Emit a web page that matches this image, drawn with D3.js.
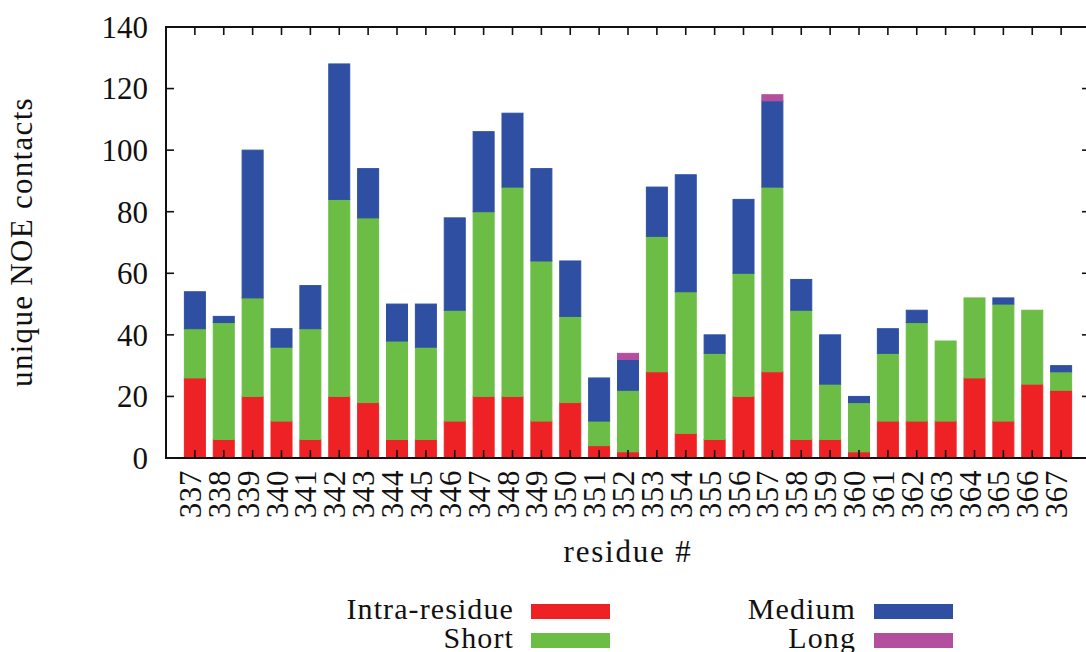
<!DOCTYPE html>
<html>
<head>
<meta charset="utf-8">
<script src="https://cdn.jsdelivr.net/npm/d3@7"></script>
<style>
  html, body { margin: 0; padding: 0; background: #fff; }
  svg text { font-family: "Liberation Serif", "DejaVu Serif", serif; fill: #111; }
</style>
</head>
<body>
<svg id="chart" width="1086" height="652"></svg>
<script>
// residue numbers on the x axis
const residues = [337,338,339,340,341,342,343,344,345,346,347,348,349,350,351,352,
                  353,354,355,356,357,358,359,360,361,362,363,364,365,366,367];

// contact counts per class (stacked bottom -> top)
const intra  = [26, 6,20,12, 6,20,18, 6, 6,12,20,20,12,18, 4, 2,28, 8, 6,20,28, 6, 6, 2,12,12,12,26,12,24,22];
const short  = [16,38,32,24,36,64,60,32,30,36,60,68,52,28, 8,20,44,46,28,40,60,42,18,16,22,32,26,26,38,24, 6];
const medium = [12, 2,48, 6,14,44,16,12,14,30,26,24,30,18,14,10,16,38, 6,24,28,10,16, 2, 8, 4, 0, 0, 2, 0, 2];
const long   = [ 0, 0, 0, 0, 0, 0, 0, 0, 0, 0, 0, 0, 0, 0, 0, 2, 0, 0, 0, 0, 2, 0, 0, 0, 0, 0, 0, 0, 0, 0, 0];

const seriesNames  = ["Intra-residue", "Short", "Medium", "Long"];
const seriesColors = ["#ee2225", "#6cbd45", "#2e4fa2", "#b24f9f"];
const yTicks = [0, 20, 40, 60, 80, 100, 120, 140];

const svg = d3.select("#chart");

// plot frame (right edge runs just past the window, as in the original)
const plotL = 166, plotR = 1090, plotT = 27, plotB = 458;

const x = d3.scaleLinear().domain([-1, residues.length]).range([plotL, plotR]);
const y = d3.scaleLinear().domain([0, 140]).range([plotB, plotT]);
const barW = 22;

const table = residues.map((r, i) => ({
  residue: r, "Intra-residue": intra[i], "Short": short[i], "Medium": medium[i], "Long": long[i]
}));
const stacked = d3.stack().keys(seriesNames)(table);

// bars
svg.append("g").selectAll("g")
  .data(stacked)
  .join("g")
    .attr("fill", (d, i) => seriesColors[i])
    .attr("stroke", (d, i) => seriesColors[i])
    .attr("stroke-width", 1)
  .selectAll("rect")
  .data(d => d)
  .join("rect")
    .attr("x", (d, i) => x(i) - barW / 2 + 0.5)
    .attr("width", barW - 1)
    .attr("y", d => y(d[1]))
    .attr("height", d => y(d[0]) - y(d[1]));

// ticks (mirrored, pointing inward)
const tickLen = 8;
const ticks = svg.append("g").attr("stroke", "#111").attr("stroke-width", 1.6);
yTicks.forEach(v => {
  ticks.append("line").attr("x1", plotL).attr("x2", plotL + tickLen).attr("y1", y(v)).attr("y2", y(v));
  ticks.append("line").attr("x1", plotR).attr("x2", plotR - tickLen).attr("y1", y(v)).attr("y2", y(v));
});
residues.forEach((r, i) => {
  ticks.append("line").attr("x1", x(i)).attr("x2", x(i)).attr("y1", plotT).attr("y2", plotT + tickLen);
  ticks.append("line").attr("x1", x(i)).attr("x2", x(i)).attr("y1", plotB).attr("y2", plotB - tickLen);
});

// border
svg.append("rect")
  .attr("x", plotL).attr("y", plotT)
  .attr("width", plotR - plotL).attr("height", plotB - plotT)
  .attr("fill", "none").attr("stroke", "#111").attr("stroke-width", 2);

// y tick labels
svg.append("g").selectAll("text")
  .data(yTicks)
  .join("text")
    .attr("x", 148)
    .attr("y", d => y(d))
    .attr("dy", "0.35em")
    .attr("text-anchor", "end")
    .attr("font-size", 31)
    .text(d => d);

// x tick labels, rotated
svg.append("g").selectAll("text")
  .data(residues)
  .join("text")
    .attr("transform", (d, i) => `translate(${x(i) + 6},${plotB + 12}) rotate(-90)`)
    .attr("text-anchor", "end")
    .attr("font-size", 31)
    .attr("letter-spacing", 0.6)
    .text(d => d);

// axis titles
svg.append("text")
  .attr("transform", "translate(32,242) rotate(-90)")
  .attr("text-anchor", "middle")
  .attr("font-size", 31)
  .attr("letter-spacing", 1.3)
  .text("unique NOE contacts");

svg.append("text")
  .attr("x", 628).attr("y", 562)
  .attr("text-anchor", "middle")
  .attr("font-size", 31)
  .attr("letter-spacing", 1.8)
  .text("residue #");

// legend, two columns
const legendPos = [
  {tx: 514, bx: 531, row: 0},
  {tx: 514, bx: 531, row: 1},
  {tx: 856, bx: 874, row: 0},
  {tx: 856, bx: 874, row: 1}
];
const legend = svg.append("g");
seriesNames.forEach((name, i) => {
  const p = legendPos[i];
  const cy = 611.5 + p.row * 29;
  legend.append("text")
    .attr("x", p.tx).attr("y", cy + 7)
    .attr("text-anchor", "end")
    .attr("font-size", 30)
    .attr("letter-spacing", 1.1)
    .text(name);
  legend.append("rect")
    .attr("x", p.bx).attr("y", cy - 7.5)
    .attr("width", 79).attr("height", 15)
    .attr("fill", seriesColors[i]);
});
</script>
</body>
</html>
